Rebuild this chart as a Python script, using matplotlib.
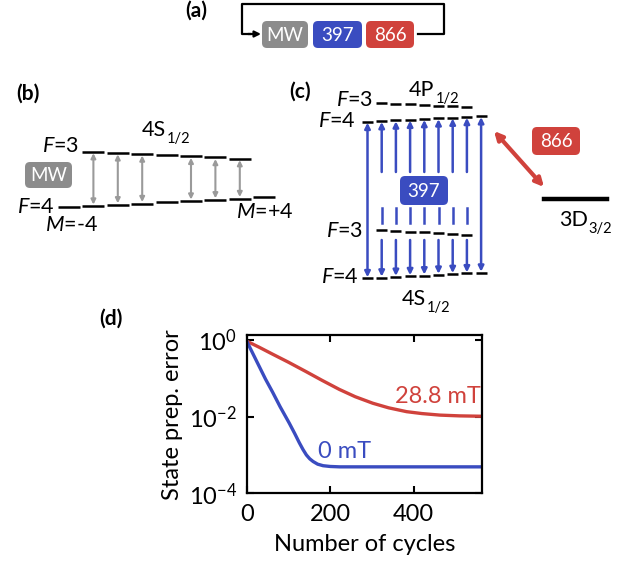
import numpy as np
import matplotlib
matplotlib.use("Agg")
import matplotlib.pyplot as plt
from matplotlib.patches import FancyBboxPatch

plt.rcParams['font.family'] = ['Lato', 'DejaVu Sans']
plt.rcParams['mathtext.fontset'] = 'custom'
plt.rcParams['mathtext.rm'] = 'Lato'
plt.rcParams['mathtext.it'] = 'Lato:italic'

# panel (d) curves (log10 of the error)
cycles_0mT = [0, 15, 30, 45, 62, 80, 102, 115, 126, 135, 143, 151, 159, 170, 183, 200, 223, 300, 400, 563]
log_err_0mT = [-0.03, -0.36, -0.69, -1.02, -1.36, -1.74, -2.17, -2.44, -2.68, -2.86, -3.0, -3.1, -3.17, -3.24, -3.28, -3.30, -3.31, -3.31, -3.31, -3.31]
cycles_288mT = [0, 30, 62, 100, 143, 180, 222, 260, 302, 340, 383, 420, 463, 510, 563]
log_err_288mT = [-0.03, -0.19, -0.37, -0.58, -0.83, -1.05, -1.29, -1.48, -1.65, -1.77, -1.87, -1.92, -1.96, -1.98, -1.99]
x_ticks = [0, 200, 400]
y_ticks = [1e-4, 1e-2, 1]

BLUE = '#3a4cc0'
RED = '#d0423c'
GRAY = '#8c8c8c'
AGRAY = '#9a9a9a'

fig = plt.figure(figsize=(6.3, 5.61), dpi=100)
renderer = fig.canvas.get_renderer()

# overlay in pixel coordinates for the diagrams
ov = fig.add_axes([0, 0, 1, 1])
ov.set_xlim(0, 630)
ov.set_ylim(561, 0)
ov.axis('off')


def box(x0, y0, x1, y1, color, label, fs=13.5):
    p = FancyBboxPatch((x0, y0), x1 - x0, y1 - y0,
                       boxstyle='round,pad=0,rounding_size=5',
                       fc=color, ec='none')
    ov.add_patch(p)
    ov.text((x0 + x1) / 2, (y0 + y1) / 2 + 0.5, label, color='white',
            fontsize=fs, ha='center', va='center')


def arrow(x0, y0, x1, y1, color, style='<|-|>', lw=1.5, ms=8):
    ov.annotate('', xy=(x1, y1), xytext=(x0, y0),
                arrowprops=dict(arrowstyle=style, color=color, lw=lw,
                                shrinkA=0, shrinkB=0, mutation_scale=ms))


def level(xc, y, w, lw=1.8, color='black'):
    ov.plot([xc - w / 2, xc + w / 2], [y, y], color=color, lw=lw,
            solid_capstyle='butt')


def term(x, y, main, sub, fs=15.5):
    t = ov.text(x, y, main, fontsize=fs, va='baseline')
    w = t.get_window_extent(renderer).width
    ov.text(x + w + 1, y + 7, sub, fontsize=fs * 0.68, va='baseline')


# ---- (a)
ov.text(185, 11, '(a)', fontsize=15, fontweight='bold', va='center')
box(262, 21, 308, 48, GRAY, 'MW')
box(313, 21, 362, 48, BLUE, '397')
box(366, 21, 414, 48, RED, '866')
ov.plot([418, 444, 444, 242, 242, 250], [34, 34, 4, 4, 34, 34],
        color='black', lw=1.6)
arrow(248, 34, 261, 34, 'black', style='-|>', lw=1.6, ms=9)

# ---- (b)
ov.text(16, 94, '(b)', fontsize=15, fontweight='bold', va='center')
term(142, 136, '4S', '1/2')
b_x = 69 + 24.4 * np.arange(9)
b_f4 = 207.3 - 1.25 * np.arange(9)
b_f3 = 151.7 + 0.95 * np.arange(7) * 1.22
for k in range(9):
    level(b_x[k], b_f4[k], 22)
for k in range(1, 8):
    level(b_x[k], b_f3[k - 1], 22)
for k in [1, 2, 3, 5, 6, 7]:
    arrow(b_x[k], b_f4[k] - 1.5, b_x[k], b_f3[k - 1] + 1.5, AGRAY, lw=1.5, ms=7)
ov.text(79, 146, '$F$=3', fontsize=15.5, ha='right', va='center')
ov.text(55, 207, '$F$=4', fontsize=15.5, ha='right', va='center')
ov.text(45, 225, '$M$=-4', fontsize=15.5, ha='left', va='center')
ov.text(236, 212, '$M$=+4', fontsize=15.5, ha='left', va='center')
box(25, 162, 72, 188, GRAY, 'MW')

# ---- (c)
ov.text(289, 92, '(c)', fontsize=15, fontweight='bold', va='center')
term(409, 96, '4P', '1/2')
term(402, 305, '4S', '1/2')
c_x = 367.5 + 14.2 * np.arange(9)
up_f4 = 121.7 - 0.7 * np.arange(9)
up_f3 = 103.3 + 0.57 * np.arange(7)
lo_f3 = 230.0 + 0.83 * np.arange(7)
lo_f4 = 278.3 - 0.7 * np.arange(9)
for k in range(9):
    level(c_x[k], up_f4[k], 11)
    level(c_x[k], lo_f4[k], 11)
for k in range(1, 8):
    level(c_x[k], up_f3[k - 1], 11)
    level(c_x[k], lo_f3[k - 1], 11)
for k in [0, 8]:
    arrow(c_x[k], lo_f4[k] - 1, c_x[k], up_f4[k] + 1, BLUE, lw=1.8, ms=8)
for k in range(1, 8):
    arrow(c_x[k], 172, c_x[k], up_f4[k] + 1, BLUE, style='-|>', lw=1.8, ms=8)
    ov.plot([c_x[k], c_x[k]], [208, 223], color=BLUE, lw=1.8)
    arrow(c_x[k], 240, c_x[k], lo_f4[k] - 1, BLUE, style='-|>', lw=1.8, ms=8)
ov.text(373, 100, '$F$=3', fontsize=15.5, ha='right', va='center')
ov.text(356, 121, '$F$=4', fontsize=15.5, ha='right', va='center')
ov.text(363, 231, '$F$=3', fontsize=15.5, ha='right', va='center')
ov.text(359, 277, '$F$=4', fontsize=15.5, ha='right', va='center')
box(400, 176, 448, 205, BLUE, '397')
box(532, 127, 580, 155, RED, '866')
arrow(494, 131, 544, 187, RED, lw=3, ms=12)
ov.plot([544, 607], [199, 199], color='black', lw=3.2)
term(559, 226, '3D', '3/2')

# ---- (d)
ov.text(99, 319, '(d)', fontsize=15, fontweight='bold', va='center')
ax = fig.add_axes([246.7 / 630, 1 - 493.3 / 561, 235 / 630, 158.3 / 561])
ax.plot(cycles_288mT, 10 ** np.array(log_err_288mT), color=RED, lw=2.4)
ax.plot(cycles_0mT, 10 ** np.array(log_err_0mT), color=BLUE, lw=2.4)
ax.set_yscale('log')
ax.set_xlim(0, 563)
ax.set_ylim(1e-4, 10 ** 0.13)
ax.set_xticks(x_ticks)
ax.set_yticks(y_ticks)
ax.minorticks_off()
ax.tick_params(direction='in', top=True, right=True, length=5, width=1.5,
               labelsize=17)
ax.tick_params(axis='x', pad=8)
ax.tick_params(axis='y', pad=7)
for s in ax.spines.values():
    s.set_linewidth(1.6)
ax.set_xlabel('Number of cycles', fontsize=17, labelpad=6)
ax.set_ylabel('State prep. error', fontsize=17, labelpad=4)
ax.text(0.995, 0.61, '28.8 mT', color=RED, fontsize=17, ha='right',
        va='center', transform=ax.transAxes)
ax.text(170, 10 ** -2.9, '0 mT', color=BLUE, fontsize=17, ha='left',
        va='center')

fig.savefig('out.png', dpi=100)
